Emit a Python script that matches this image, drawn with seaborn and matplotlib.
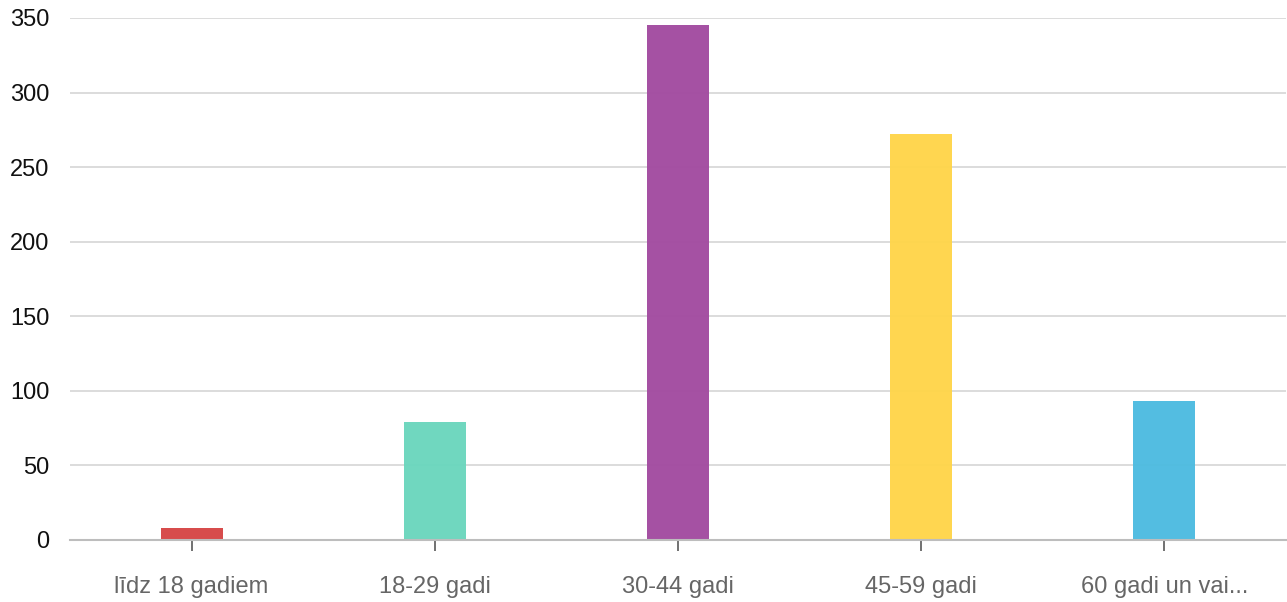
import matplotlib
matplotlib.use('Agg')
import matplotlib.pyplot as plt
import seaborn as sns
import pandas as pd

categories = ['līdz 18 gadiem', '18-29 gadi', '30-44 gadi', '45-59 gadi', '60 gadi un vai...']
counts = [8, 79, 345, 272, 93]
colors = ['#D64646', '#6BD6BD', '#A24BA0', '#FFD54A', '#4DBBE0']
yticks = [0, 50, 100, 150, 200, 250, 300, 350]

sns.set_style('white')
plt.rcParams['font.family'] = ['Liberation Sans Narrow', 'Liberation Sans', 'DejaVu Sans']

df = pd.DataFrame({'Age': categories, 'Count': counts})

fig = plt.figure(figsize=(12.87, 6.02), dpi=100)
ax = fig.add_axes([70 / 1287, 62 / 602, 1216 / 1287, 522 / 602])
sns.barplot(data=df, x='Age', y='Count', hue='Age', palette=colors,
            saturation=1, width=0.255, alpha=0.97, linewidth=0,
            legend=False, ax=ax, zorder=2)

ax.set_ylim(0, 350)
ax.set_yticks(yticks)
ax.set_xlim(-0.5, 4.5)
ax.grid(axis='y', color='#d9d9d9', linewidth=1.3, zorder=0)
ax.set_axisbelow(True)
for s in ['top', 'right', 'left']:
    ax.spines[s].set_visible(False)
ax.spines['bottom'].set_color('#bdbdbd')
ax.spines['bottom'].set_linewidth(1.5)
ax.spines['bottom'].set_zorder(5)
ax.tick_params(axis='x', bottom=True, direction='out', length=8, width=1.3,
               color='#666666', labelsize=17, labelcolor='#666666', pad=18)
ax.tick_params(axis='y', left=False, length=0, labelsize=17,
               labelcolor='#111111', pad=15)
ax.set_xlabel('')
ax.set_ylabel('')

plt.savefig('out.png', dpi=100)
